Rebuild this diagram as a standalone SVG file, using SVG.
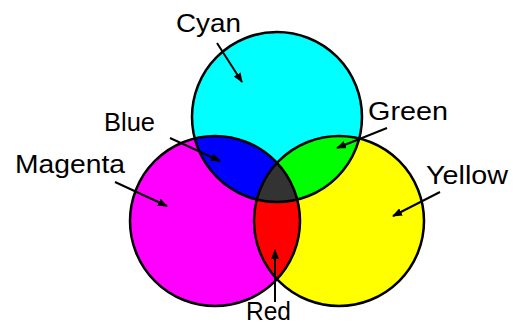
<svg xmlns="http://www.w3.org/2000/svg" width="515" height="324" viewBox="0 0 515 324">
<style>
.ol{fill:none;stroke:#000;stroke-width:2.5}
.lbl{font-family:"Liberation Sans",Arial,sans-serif;font-size:25px;fill:#000}
.ar{stroke:#000;stroke-width:2;fill:none;marker-end:url(#ah)}
</style>
<defs>
<marker id="ah" viewBox="0 0 10 8" refX="9" refY="4" markerWidth="10" markerHeight="8" markerUnits="userSpaceOnUse" orient="auto">
<path d="M0,0 L10,4 L0,8 z" fill="#000"/>
</marker>
<clipPath id="clipC"><circle cx="277" cy="117" r="85"/></clipPath>
<clipPath id="clipM"><circle cx="215" cy="221" r="85"/></clipPath>
<clipPath id="clipY"><circle cx="339" cy="221" r="85"/></clipPath>
</defs>
<rect width="515" height="324" fill="#fff"/>
<g id="cyan-circle"><circle cx="277" cy="117" r="85" fill="#00ffff"/></g>
<g id="magenta-circle"><circle cx="215" cy="221" r="85" fill="#ff00ff"/></g>
<g id="yellow-circle"><circle cx="339" cy="221" r="85" fill="#ffff00"/></g>
<g id="blue-region" clip-path="url(#clipC)"><circle cx="215" cy="221" r="85" fill="#0000ff"/></g>
<g id="green-region" clip-path="url(#clipC)"><circle cx="339" cy="221" r="85" fill="#00ff00"/></g>
<g id="red-region" clip-path="url(#clipM)"><circle cx="339" cy="221" r="85" fill="#ff0000"/></g>
<g id="center-region" clip-path="url(#clipC)"><g clip-path="url(#clipM)"><circle cx="339" cy="221" r="85" fill="#333333"/></g></g>
<g id="outlines">
<circle class="ol" cx="277" cy="117" r="85"/>
<circle class="ol" cx="215" cy="221" r="85"/>
<circle class="ol" cx="339" cy="221" r="85"/>
</g>
<g id="connectors">
<line class="ar" x1="217" y1="43" x2="242" y2="82"/>
<line class="ar" x1="170" y1="138" x2="220" y2="161"/>
<line class="ar" x1="115" y1="182" x2="167" y2="206"/>
<line class="ar" x1="387" y1="128" x2="337" y2="148"/>
<line class="ar" x1="440" y1="192" x2="393" y2="216"/>
<line class="ar" x1="275" y1="302" x2="275" y2="250"/>
</g>
<g id="label-cyan"><text class="lbl" x="176" y="32" textLength="65" lengthAdjust="spacingAndGlyphs">Cyan</text></g>
<g id="label-blue"><text class="lbl" x="104" y="131" textLength="51" lengthAdjust="spacingAndGlyphs">Blue</text></g>
<g id="label-magenta"><text class="lbl" x="15" y="173" textLength="110" lengthAdjust="spacingAndGlyphs">Magenta</text></g>
<g id="label-green"><text class="lbl" x="368" y="120" textLength="80" lengthAdjust="spacingAndGlyphs">Green</text></g>
<g id="label-yellow"><text class="lbl" x="426" y="184" textLength="82" lengthAdjust="spacingAndGlyphs">Yellow</text></g>
<g id="label-red"><text class="lbl" x="246" y="320" textLength="45" lengthAdjust="spacingAndGlyphs">Red</text></g>
</svg>
